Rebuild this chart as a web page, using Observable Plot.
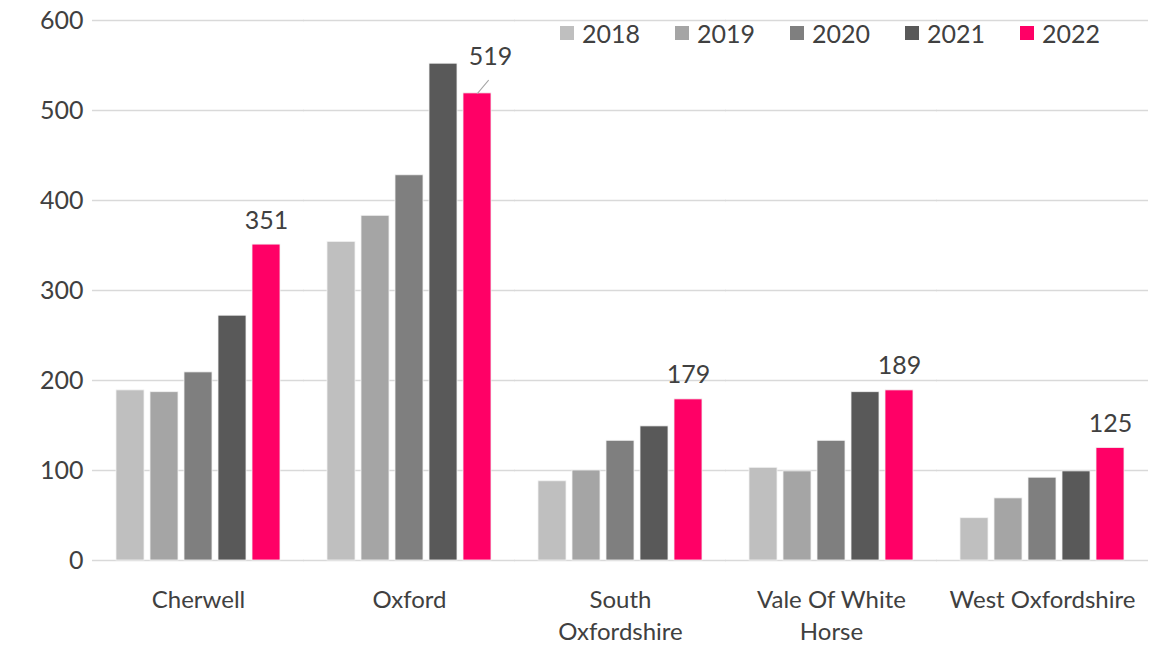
<!DOCTYPE html>
<html>
<head>
<meta charset="utf-8">
<script src="https://cdn.jsdelivr.net/npm/d3@7"></script>
<script src="https://cdn.jsdelivr.net/npm/@observablehq/plot@0.6"></script>
<style>
  html, body { margin: 0; padding: 0; background: #fff; }
  #wrap { position: relative; width: 1169px; height: 645px; font-family: Lato, "Open Sans", sans-serif; }
  #legend { position: absolute; top: 18px; left: 560px; display: flex; gap: 0; font-size: 25px; color: #404040; }
  .item { display: flex; align-items: center; width: 115px; }
  .sw { width: 14px; height: 14px; margin-right: 8px; }
</style>
</head>
<body>
<div id="wrap"><div id="legend"></div></div>
<script>
const districts = ["Cherwell", "Oxford", "South Oxfordshire", "Vale Of White Horse", "West Oxfordshire"];
const districtLabels = ["Cherwell", "Oxford", "South\nOxfordshire", "Vale Of White\nHorse", "West Oxfordshire"];
const years = ["2018", "2019", "2020", "2021", "2022"];
const v2018 = [189, 354, 88, 103, 47];
const v2019 = [187, 383, 100, 99, 69];
const v2020 = [209, 428, 133, 133, 92];
const v2021 = [272, 552, 149, 187, 99];
const v2022 = [351, 519, 179, 189, 125];
const yTicks = [0, 100, 200, 300, 400, 500, 600];
const colors = ["#bfbfbf", "#a5a5a5", "#7f7f7f", "#595959", "#ff0066"];

const series = [v2018, v2019, v2020, v2021, v2022];
const data = [];
districts.forEach((d, i) => years.forEach((y, j) => data.push({district: d, year: y, value: series[j][i]})));
const labels = data.filter(d => d.year === "2022");
const labelMap = Object.fromEntries(districts.map((d, i) => [d, districtLabels[i]]));

const chart = Plot.plot({
  width: 1169,
  height: 645,
  marginLeft: 92,
  marginRight: 21,
  marginTop: 20,
  marginBottom: 85,
  style: {fontFamily: "Lato, 'Open Sans', sans-serif", fontSize: "25px", color: "#404040", background: "#fff"},
  fx: {domain: districts, paddingInner: 0.166, paddingOuter: 0.08, label: null, tickFormat: d => labelMap[d]},
  x: {domain: years, padding: 0.176, axis: null},
  y: {domain: [0, 600], ticks: yTicks, label: null},
  color: {domain: years, range: colors},
  marks: [
    Plot.ruleY(yTicks, {stroke: "#d9d9d9", strokeWidth: 1.5, insetLeft: -18, insetRight: -18}),
    Plot.axisY({ticks: yTicks, tickSize: 0, tickPadding: 27, fontSize: 25, label: null, fill: "#404040"}),
    Plot.axisFx({anchor: "bottom", tickSize: 0, tickPadding: 24, fontSize: 24, label: null, lineHeight: 1.35, fill: "#404040", tickFormat: d => labelMap[d]}),
    Plot.barY(data, {fx: "district", x: "year", y: "value", fill: "year", stroke: "#f2f2f2", strokeWidth: 0.8}),
    Plot.text(labels.filter(d => d.district !== "Oxford"), {fx: "district", x: "year", y: "value", text: d => String(d.value), dy: -24, fontSize: 25, fill: "#404040"}),
    Plot.text(labels.filter(d => d.district === "Oxford"), {fx: "district", x: "year", y: "value", text: d => String(d.value), dy: -36, dx: 13, fontSize: 25, fill: "#404040"}),
    Plot.vector(labels.filter(d => d.district === "Oxford"), {fx: "district", x: "year", y: "value", length: 17, rotate: 40, anchor: "start", stroke: "#a6a6a6", strokeWidth: 1,
      shape: {draw(context, l) { context.moveTo(0, 0); context.lineTo(0, -l); }}})
  ]
});
document.getElementById("wrap").prepend(chart);

const legend = document.getElementById("legend");
years.forEach((y, i) => {
  const it = document.createElement("div");
  it.className = "item";
  it.innerHTML = `<span class="sw" style="background:${colors[i]}"></span><span>${y}</span>`;
  legend.appendChild(it);
});
</script>
</body>
</html>
